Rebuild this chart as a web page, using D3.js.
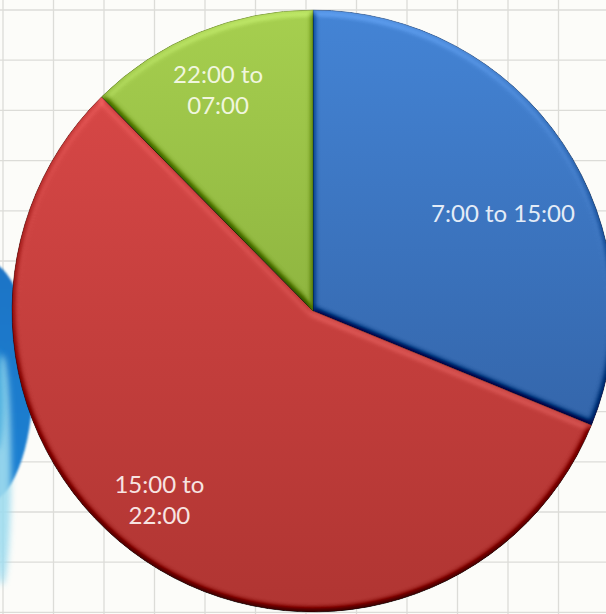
<!DOCTYPE html>
<html>
<head>
<meta charset="utf-8">
<script src="https://cdn.jsdelivr.net/npm/d3@7/dist/d3.min.js"></script>
<style>
  html, body { margin: 0; padding: 0; background: #fcfcf9; }
  svg { display: block; }
</style>
</head>
<body>
<svg id="chart" width="606" height="614"></svg>
<script>
// Shift shares (percent of the day's total)
const categories = ["7:00 to 15:00", "15:00 to 22:00", "22:00 to 07:00"];
const values = [31.2, 56.4, 12.4];
const labelLines = [["7:00 to 15:00"], ["15:00 to", "22:00"], ["22:00 to", "07:00"]];
const topColors = ["#4484d5", "#d64746", "#a6cf4f"];
const bottomColors = ["#3466ab", "#b03532", "#8fb540"];
const textColors = ["#e4ecf7", "#f7e4e2", "#f0f6de"];

const W = 606, H = 614;
const cx = 313, cy = 311, R = 301;

// label placement: radius factor and angular nudge (degrees) per slice
const labelRadius = [0.71, 0.81, 0.80];
const labelNudge = [6.6, 5.2, -0.9];

const svg = d3.select("#chart");
const defs = svg.append("defs");

// background grid
const bg = svg.append("g");
bg.append("rect").attr("width", W).attr("height", H).attr("fill", "#fcfcf9");
bg.selectAll("line.h").data(d3.range(0, 13)).join("line")
  .attr("x1", 0).attr("x2", W)
  .attr("y1", i => 10 + i * 50.2).attr("y2", i => 10 + i * 50.2)
  .attr("stroke", "#dcdcd8").attr("stroke-width", 1.3);
bg.selectAll("line.v").data(d3.range(0, 12)).join("line")
  .attr("y1", 0).attr("y2", H)
  .attr("x1", i => 3 + i * 50.5).attr("x2", i => 3 + i * 50.5)
  .attr("stroke", "#dcdcd8").attr("stroke-width", 1.3);

// partial blue shape at the left edge
defs.append("filter").attr("id", "soft").attr("x", "-100%").attr("y", "-20%").attr("width", "300%").attr("height", "140%")
  .append("feGaussianBlur").attr("stdDeviation", 3);
defs.append("filter").attr("id", "soft1").attr("x", "-20%").attr("y", "-20%").attr("width", "140%").attr("height", "140%")
  .append("feGaussianBlur").attr("stdDeviation", 1.2);
const edgeGrad = defs.append("linearGradient").attr("id", "edgeGrad")
  .attr("x1", "0%").attr("x2", "0%").attr("y1", "0%").attr("y2", "100%");
edgeGrad.append("stop").attr("offset", "0%").attr("stop-color", "#1b74c6");
edgeGrad.append("stop").attr("offset", "100%").attr("stop-color", "#1a82d3");
bg.append("ellipse").attr("cx", -16).attr("cy", 382).attr("rx", 49).attr("ry", 122)
  .attr("fill", "url(#edgeGrad)").attr("filter", "url(#soft1)");
bg.append("ellipse").attr("cx", 2).attr("cy", 470).attr("rx", 9).attr("ry", 115)
  .attr("fill", "#9fdcef").attr("opacity", 0.9).attr("filter", "url(#soft)");
bg.append("ellipse").attr("cx", -4).attr("cy", 400).attr("rx", 8).attr("ry", 50)
  .attr("fill", "#3aa6dc").attr("opacity", 0.7).attr("filter", "url(#soft)");

// bevel lighting filter for the slices
const elev = 62;
const bevel = defs.append("filter").attr("id", "bevel")
  .attr("x", "-5%").attr("y", "-5%").attr("width", "110%").attr("height", "110%")
  .attr("color-interpolation-filters", "sRGB");
bevel.append("feGaussianBlur").attr("in", "SourceAlpha").attr("stdDeviation", 3.5).attr("result", "b");
bevel.append("feDiffuseLighting").attr("in", "b").attr("surfaceScale", 4.5)
  .attr("diffuseConstant", 1).attr("lighting-color", "#ffffff").attr("result", "l")
  .append("feDistantLight").attr("azimuth", 270).attr("elevation", elev);
bevel.append("feComposite").attr("in", "SourceGraphic").attr("in2", "l")
  .attr("operator", "arithmetic").attr("k1", 0).attr("k2", 1).attr("k3", 0.75)
  .attr("k4", -0.75 * Math.sin(elev * Math.PI / 180))
  .attr("result", "c");
bevel.append("feComposite").attr("in", "c").attr("in2", "SourceAlpha").attr("operator", "in");

// slice gradients
categories.forEach((c, i) => {
  const g = defs.append("linearGradient").attr("id", "sg" + i)
    .attr("x1", "0%").attr("x2", "0%").attr("y1", "0%").attr("y2", "100%");
  g.append("stop").attr("offset", "0%").attr("stop-color", topColors[i]);
  g.append("stop").attr("offset", "100%").attr("stop-color", bottomColors[i]);
});

const pie = d3.pie().sort(null).value(d => d);
const arcs = pie(values);
const arc = d3.arc().innerRadius(0).outerRadius(R);

const pieG = svg.append("g").attr("transform", `translate(${cx},${cy})`);

pieG.selectAll("path.slice").data(arcs).join("path")
  .attr("class", "slice")
  .attr("d", arc)
  .attr("fill", (d, i) => `url(#sg${i})`)
  .attr("stroke", (d, i) => d3.color(bottomColors[i]).darker(0.5))
  .attr("stroke-width", 0.8)
  .attr("filter", "url(#bevel)");

// labels
pieG.selectAll("text.lbl").data(arcs).join("text")
  .attr("class", "lbl")
  .attr("font-family", "Lato, 'Open Sans', sans-serif")
  .attr("font-size", 24)
  .attr("fill", (d, i) => textColors[i])
  .attr("text-anchor", "middle")
  .each(function (d, i) {
    const a = (d.startAngle + d.endAngle) / 2 + labelNudge[i] * Math.PI / 180;
    const r = R * labelRadius[i];
    const x = Math.sin(a) * r;
    const y = -Math.cos(a) * r;
    const lines = labelLines[i];
    const lh = 31;
    const y0 = y + 8.5 - (lines.length - 1) * lh / 2;
    d3.select(this).selectAll("tspan").data(lines).join("tspan")
      .attr("x", x)
      .attr("y", (t, j) => y0 + j * lh)
      .text(t => t);
  });
</script>
</body>
</html>
